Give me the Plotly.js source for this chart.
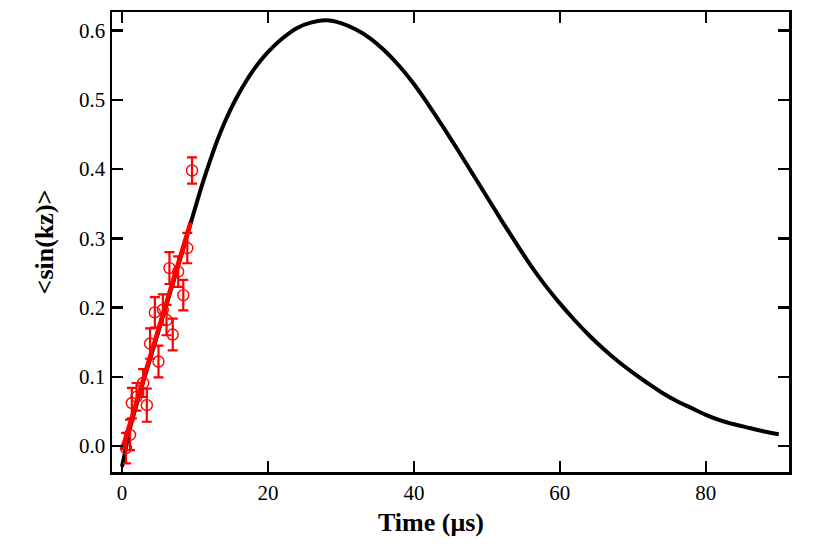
<!DOCTYPE html>
<html>
<head>
<meta charset="utf-8">
<script src="https://cdn.plot.ly/plotly-3.0.1.min.js"></script>
<style>body{margin:0;background:#fff}</style>
</head>
<body>
<div id="chart" style="width:830px;height:554px"></div>
<script>
"use strict";
// measured points with error bars
var dataT = [0.55, 1.1, 1.35, 2.0, 2.9, 3.4, 3.85, 4.5, 5.0, 5.6, 6.1, 6.5, 6.95, 7.7, 8.4, 8.95, 9.6];
var dataY = [-0.003, 0.016, 0.062, 0.071, 0.091, 0.059, 0.148, 0.193, 0.122, 0.197, 0.182, 0.257, 0.161, 0.252, 0.218, 0.286, 0.398];
var dataErr = [0.022, 0.022, 0.022, 0.02, 0.02, 0.024, 0.022, 0.022, 0.023, 0.022, 0.022, 0.023, 0.023, 0.022, 0.022, 0.022, 0.019];

// linear fit through the data
var fitT = [0, 9.4];
var fitY = [-0.006, 0.323];

// model curve
var curveT = [0, 0.5, 1, 2, 3, 4, 5, 6, 7, 8, 9, 10, 11, 12, 13, 14, 15, 16, 17, 18, 19, 20,
  22, 24, 26, 28, 30, 32, 34, 36, 38, 40, 42, 44, 46, 48, 50, 52, 54, 56, 58, 60,
  62, 64, 66, 68, 70, 72, 74, 76, 78, 80, 82, 84, 86, 88, 90];
var curveY = [-0.03, -0.005, 0.022, 0.060, 0.096, 0.131, 0.166, 0.201, 0.236, 0.271, 0.307, 0.343, 0.378, 0.410, 0.440, 0.466, 0.489, 0.509, 0.527, 0.543, 0.557, 0.569,
  0.589, 0.604, 0.612, 0.615, 0.611, 0.602, 0.589, 0.571, 0.549, 0.523, 0.493, 0.461, 0.428, 0.394, 0.360, 0.326, 0.293, 0.261, 0.232, 0.206,
  0.182, 0.160, 0.140, 0.122, 0.106, 0.091, 0.077, 0.065, 0.055, 0.045, 0.037, 0.031, 0.026, 0.021, 0.017];

var serif = "Liberation Serif, Times New Roman, serif";

var traces = [
  {x: curveT, y: curveY, mode: "lines", line: {color: "black", width: 4, shape: "spline", smoothing: 1}},
  {x: fitT, y: fitY, mode: "lines", line: {color: "red", width: 4.5}},
  {x: dataT, y: dataY, mode: "markers",
   marker: {symbol: "circle-open", size: 11, color: "red", line: {width: 1.4}},
   error_y: {type: "data", array: dataErr, visible: true, color: "red", thickness: 2.2, width: 5}}
];

var axisBase = {
  showline: true, mirror: "ticks", linecolor: "black", linewidth: 2.5,
  ticks: "inside", ticklen: 11, tickwidth: 2.5, tickcolor: "black",
  showgrid: false, zeroline: false,
  tickfont: {family: serif, size: 21, color: "black"}
};

var layout = {
  width: 830, height: 554,
  margin: {l: 112, r: 41, t: 12, b: 82},
  paper_bgcolor: "white", plot_bgcolor: "white",
  showlegend: false,
  xaxis: Object.assign({}, axisBase, {
    range: [-1.37, 91.4],
    tickvals: [0, 20, 40, 60, 80]
  }),
  yaxis: Object.assign({}, axisBase, {
    range: [-0.0376, 0.627],
    tickvals: [0, 0.1, 0.2, 0.3, 0.4, 0.5, 0.6],
    ticktext: ["0.0", "0.1", "0.2", "0.3", "0.4", "0.5", "0.6"],
    title: {text: "<sin(kz)>", standoff: 18, font: {family: serif, size: 26, color: "black", weight: "bold"}}
  }),
  annotations: [{
    text: "Time (μs)", xref: "paper", yref: "paper", x: 0.471, y: -0.109,
    xanchor: "center", yanchor: "middle", showarrow: false,
    font: {family: serif, size: 26, color: "black", weight: "bold"}
  }]
};

Plotly.newPlot("chart", traces, layout, {displayModeBar: false, staticPlot: true});
</script>
</body>
</html>
